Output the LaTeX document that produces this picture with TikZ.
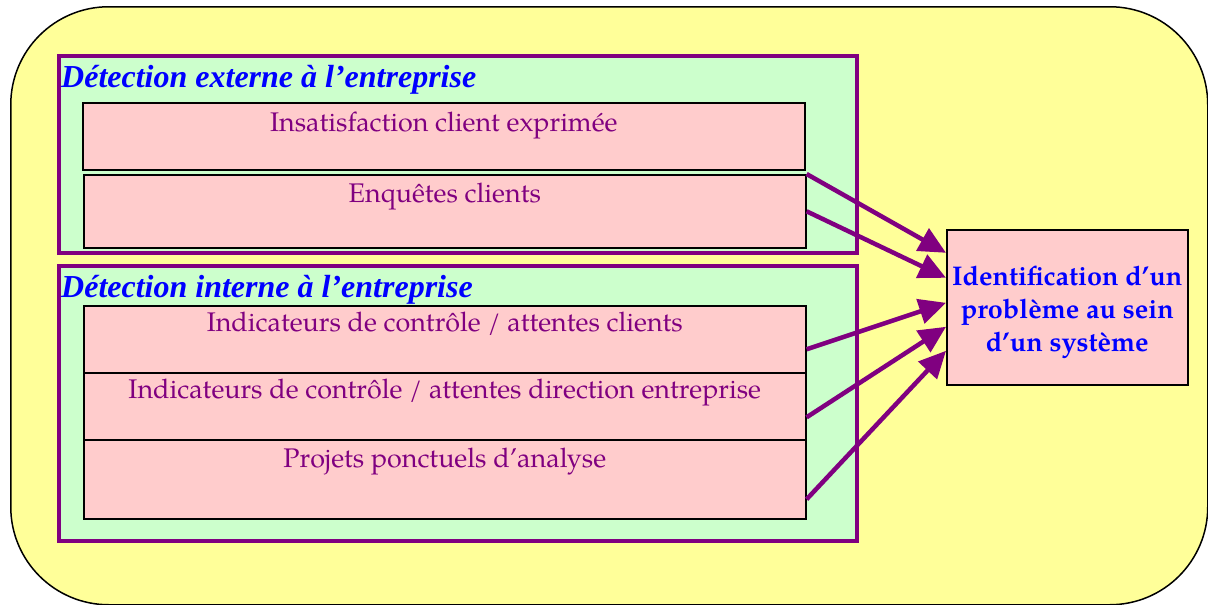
\documentclass[tikz,border=0pt]{standalone}
\usepackage{fontspec}
\setmainfont{texgyrepagella}[Extension=.otf, UprightFont=*-regular, BoldFont=*-bold, ItalicFont=*-italic, BoldItalicFont=*-bolditalic]
\newfontfamily\timesf{Liberation Serif}
\usetikzlibrary{arrows.meta}
\definecolor{cyellow}{HTML}{FFFF99}
\definecolor{cgreen}{HTML}{CCFFCC}
\definecolor{cpink}{HTML}{FFCCCC}
\definecolor{cpurple}{HTML}{800080}
\definecolor{cblue}{HTML}{0000FF}
\tikzset{
  outerbox/.style={draw=black, line width=1.5pt, fill=cyellow, rounded corners=98pt, anchor=north west, inner sep=0pt},
  groupbox/.style={draw=cpurple, line width=3.5pt, fill=cgreen, anchor=north west, inner sep=0pt, minimum width=798pt},
  grouptitle/.style={anchor=base west, inner sep=0pt, text=cblue, font=\timesf\bfseries\itshape\fontsize{32}{36}\selectfont},
  itembox/.style={draw=black, line width=1.6pt, fill=cpink, anchor=north west, inner xsep=0pt, inner ysep=0pt,
    minimum width=722pt, text=cpurple, font=\fontsize{26.9}{30}\selectfont},
  resultbox/.style={draw=black, line width=1.6pt, fill=cpink, anchor=north west, inner sep=0pt,
    minimum width=241pt, minimum height=155pt},
  resulttext/.style={inner sep=0pt, align=center, text=cblue, font=\bfseries\fontsize{27}{33}\selectfont},
  link/.style={draw=cpurple, line width=4.5pt, -{Triangle[length=27pt,width=25pt]}}
}
\begin{document}
\begin{tikzpicture}[x=1pt, y=-1pt]
\useasboundingbox (0,0) rectangle (1208,605);
\node[outerbox, minimum width=1197pt, minimum height=598pt] (outer) at (10,6) {};
% external detection
\node[groupbox, minimum height=197pt] (g1) at (57,54) {};
\node[grouptitle] (t1) at (61,87) {Détection externe à l’entreprise};
\node[itembox, text height=29pt, text depth=38pt] (p1) at (82,102) {Insatisfaction client exprimée};
\node[itembox, text height=28pt, text depth=45pt] (p2) at (83,174) {Enquêtes clients};
% internal detection
\node[groupbox, minimum height=275pt] (g2) at (57,264) {};
\node[grouptitle] (t2) at (61,297) {Détection interne à l’entreprise};
\node[itembox, text height=26pt, text depth=41pt] (p3) at (83,305) {Indicateurs de contrôle / attentes clients};
\node[itembox, text height=26pt, text depth=41pt] (p4) at (83,372) {Indicateurs de contrôle / attentes direction entreprise};
\node[itembox, text height=28pt, text depth=51pt] (p5) at (83,439) {Projets ponctuels d’analyse};
% result
\node[resultbox] (r) at (946,229) {};
\node[resulttext] (rt) at ([yshift=-5pt]r.center) {Identification d’un\\problème au sein\\d’un système};
% connectors
\draw[link] (p2.north east) -- ([yshift=54.5pt]r.west);
\draw[link] (p2.east) -- ([yshift=29.5pt]r.west);
\draw[link] ([yshift=-10pt]p3.east) -- ([yshift=4.5pt]r.west);
\draw[link] ([yshift=-11pt]p4.east) -- ([yshift=-19.5pt]r.west);
\draw[link] ([yshift=-20pt]p5.east) -- ([yshift=-43.5pt]r.west);
\end{tikzpicture}
\end{document}
